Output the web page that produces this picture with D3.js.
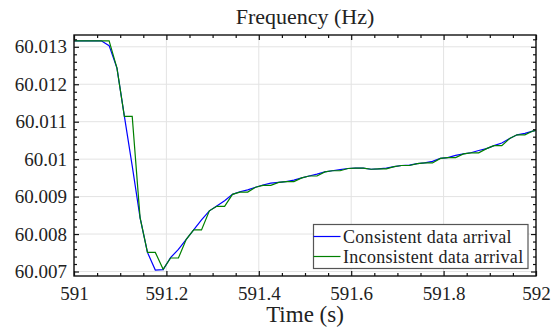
<!DOCTYPE html>
<html lang="en">
<head>
    <meta charset="UTF-8">
    <title>Frequency (Hz)</title>
    <script src="https://cdn.jsdelivr.net/npm/d3@7/dist/d3.min.js"></script>
    <style>
        body { margin: 0; background: #fff; }
        .grid line { stroke: #e3e3e3; stroke-width: 1; }
        .axis path { stroke: none; }
        .axis line { stroke: #111; stroke-width: 1.2; }
    </style>
</head>
<body>
<svg id="main-svg" width="559" height="331" xmlns="http://www.w3.org/2000/svg" font-family="Liberation Serif, serif"></svg>

<script>
    'use strict';
    const SERIF = 'Liberation Serif';

    // sample times (s), roughly one sample every 1/60 s
    const time = [590.993, 591.009, 591.026, 591.043, 591.059, 591.076, 591.093, 591.109, 591.126, 591.143,
        591.159, 591.176, 591.193, 591.209, 591.226, 591.243, 591.259, 591.276, 591.293, 591.309,
        591.326, 591.343, 591.359, 591.376, 591.393, 591.409, 591.426, 591.443, 591.459, 591.476,
        591.493, 591.509, 591.526, 591.543, 591.559, 591.576, 591.593, 591.609, 591.626, 591.643,
        591.659, 591.676, 591.693, 591.709, 591.726, 591.743, 591.759, 591.776, 591.793, 591.809,
        591.826, 591.843, 591.859, 591.876, 591.893, 591.909, 591.926, 591.943, 591.959, 591.976,
        591.993, 592.009];

    // consistent data arrival (blue)
    const consistent = [60.01316, 60.01316, 60.01316, 60.01316, 60.01316, 60.01303, 60.01243, 60.01115, 60.00982, 60.00844,
        60.00751, 60.00704, 60.00705, 60.00737, 60.00759, 60.00786, 60.00811, 60.00838, 60.00862, 60.00875,
        60.00889, 60.00906, 60.00913, 60.00918, 60.00925, 60.00931, 60.00936, 60.00938, 60.00940, 60.00944,
        60.00950, 60.00955, 60.00960, 60.00966, 60.00969, 60.00972, 60.00975, 60.00976, 60.00976, 60.00973,
        60.00974, 60.00976, 60.00980, 60.00983, 60.00984, 60.00988, 60.00990, 60.00994, 60.01002, 60.01004,
        60.01010, 60.01014, 60.01017, 60.01023, 60.01028, 60.01036, 60.01043, 60.01055, 60.01065, 60.01069,
        60.01075, 60.01079];

    // inconsistent data arrival (green) - some samples held over
    const inconsistent = [60.01316, 60.01316, 60.01316, 60.01316, 60.01316, 60.01316, 60.01243, 60.01114, 60.01114, 60.00844,
        60.00751, 60.00751, 60.00706, 60.00736, 60.00736, 60.00786, 60.00811, 60.00811, 60.00862, 60.00874,
        60.00874, 60.00906, 60.00912, 60.00912, 60.00925, 60.00930, 60.00930, 60.00938, 60.00940, 60.00940,
        60.00950, 60.00955, 60.00955, 60.00966, 60.00969, 60.00969, 60.00975, 60.00976, 60.00976, 60.00973,
        60.00974, 60.00974, 60.00980, 60.00983, 60.00983, 60.00988, 60.00990, 60.00990, 60.01002, 60.01004,
        60.01004, 60.01014, 60.01017, 60.01017, 60.01028, 60.01036, 60.01036, 60.01055, 60.01065, 60.01065,
        60.01075, 60.01079];

    const xTicks = [591, 591.2, 591.4, 591.6, 591.8, 592];
    const xTickLabels = ['591', '591.2', '591.4', '591.6', '591.8', '592'];
    const yTicks = [60.007, 60.008, 60.009, 60.01, 60.011, 60.012, 60.013];
    const yTickLabels = ['60.007', '60.008', '60.009', '60.01', '60.011', '60.012', '60.013'];
    const seriesNames = ['Consistent data arrival', 'Inconsistent data arrival'];
    const seriesColors = ['#0000ff', '#008000'];

    const mLeft = 74, mRight = 536, mTop = 35, mBottom = 276;
    const svg = d3.select('#main-svg');

    const x = d3.scaleLinear().domain([591, 592]).range([mLeft, mRight]);
    const y = d3.scaleLinear().domain([60.00688, 60.013315]).range([mBottom, mTop]);

    // minor tick positions
    const xMinor = d3.range(0, 21).map(i => 591 + i * 0.05).filter(v => !xTicks.some(t => Math.abs(t - v) < 1e-9));
    const yMinor = d3.range(0, 33).map(i => 60.0068 + i * 0.0002)
        .filter(v => v >= 60.00688 && v <= 60.013315 && !yTicks.some(t => Math.abs(t - v) < 1e-9));

    // grid
    const grid = svg.append('g').attr('class', 'grid');
    grid.selectAll('.gx').data(xTicks).enter().append('line')
        .attr('x1', d => x(d)).attr('x2', d => x(d)).attr('y1', mTop).attr('y2', mBottom);
    grid.selectAll('.gy').data(yTicks).enter().append('line')
        .attr('x1', mLeft).attr('x2', mRight).attr('y1', d => y(d)).attr('y2', d => y(d));

    // lines
    svg.append('clipPath').attr('id', 'clip').append('rect')
        .attr('x', mLeft).attr('y', mTop).attr('width', mRight - mLeft).attr('height', mBottom - mTop);

    const line = d3.line().x(d => x(d[0])).y(d => y(d[1]));
    [consistent, inconsistent].forEach((vals, i) => {
        svg.append('path')
            .datum(time.map((t, j) => [t, vals[j]]))
            .attr('clip-path', 'url(#clip)')
            .attr('fill', 'none')
            .attr('stroke', seriesColors[i])
            .attr('stroke-width', 1.2)
            .attr('d', line);
    });

    // axes (ticks pointing inward)
    const axisFont = g => {
        g.attr('font-family', SERIF).attr('font-size', 19);
        g.selectAll('text').attr('font-family', SERIF).attr('fill', '#222');
    };

    svg.append('g').attr('class', 'axis').attr('transform', `translate(0,${mBottom})`)
        .call(d3.axisBottom(x).tickValues(xTicks).tickSize(-5).tickPadding(11)
            .tickFormat((d, i) => xTickLabels[i]))
        .call(axisFont);
    svg.append('g').attr('class', 'axis').attr('transform', `translate(0,${mBottom})`)
        .call(d3.axisBottom(x).tickValues(xMinor).tickSize(-3).tickFormat(''));
    svg.append('g').attr('class', 'axis').attr('transform', `translate(0,${mTop})`)
        .call(d3.axisTop(x).tickValues(xTicks).tickSize(-5).tickFormat(''));
    svg.append('g').attr('class', 'axis').attr('transform', `translate(0,${mTop})`)
        .call(d3.axisTop(x).tickValues(xMinor).tickSize(-3).tickFormat(''));

    svg.append('g').attr('class', 'axis').attr('transform', `translate(${mLeft},0)`)
        .call(d3.axisLeft(y).tickValues(yTicks).tickSize(-5).tickPadding(7)
            .tickFormat((d, i) => yTickLabels[i]))
        .call(axisFont);
    svg.append('g').attr('class', 'axis').attr('transform', `translate(${mLeft},0)`)
        .call(d3.axisLeft(y).tickValues(yMinor).tickSize(-3).tickFormat(''));
    svg.append('g').attr('class', 'axis').attr('transform', `translate(${mRight},0)`)
        .call(d3.axisRight(y).tickValues(yTicks).tickSize(-5).tickFormat(''));
    svg.append('g').attr('class', 'axis').attr('transform', `translate(${mRight},0)`)
        .call(d3.axisRight(y).tickValues(yMinor).tickSize(-3).tickFormat(''));

    // frame
    svg.append('rect')
        .attr('x', mLeft).attr('y', mTop).attr('width', mRight - mLeft).attr('height', mBottom - mTop)
        .attr('fill', 'none').attr('stroke', '#111').attr('stroke-width', 1.4);

    // title and x label
    svg.append('text').attr('x', (mLeft + mRight) / 2).attr('y', 24)
        .attr('text-anchor', 'middle').attr('font-family', SERIF).attr('font-size', 22)
        .attr('fill', '#222').text('Frequency (Hz)');
    svg.append('text').attr('x', (mLeft + mRight) / 2).attr('y', 322)
        .attr('text-anchor', 'middle').attr('font-family', SERIF).attr('font-size', 23)
        .attr('fill', '#222').text('Time (s)');

    // legend
    const legend = svg.append('g').attr('transform', 'translate(313.5,224.5)');
    legend.append('rect').attr('width', 214.5).attr('height', 44)
        .attr('fill', '#fff').attr('stroke', '#555').attr('stroke-width', 1.2);
    seriesNames.forEach((name, i) => {
        const ly = 12 + i * 20;
        legend.append('line').attr('x1', 0).attr('x2', 27).attr('y1', ly).attr('y2', ly)
            .attr('stroke', seriesColors[i]).attr('stroke-width', 1.2);
        legend.append('text').attr('x', 29.5).attr('y', ly + 6)
            .attr('font-family', SERIF).attr('font-size', 18).attr('fill', '#222')
            .style('letter-spacing', '0.3px').text(name);
    });
</script>
</body>
</html>
